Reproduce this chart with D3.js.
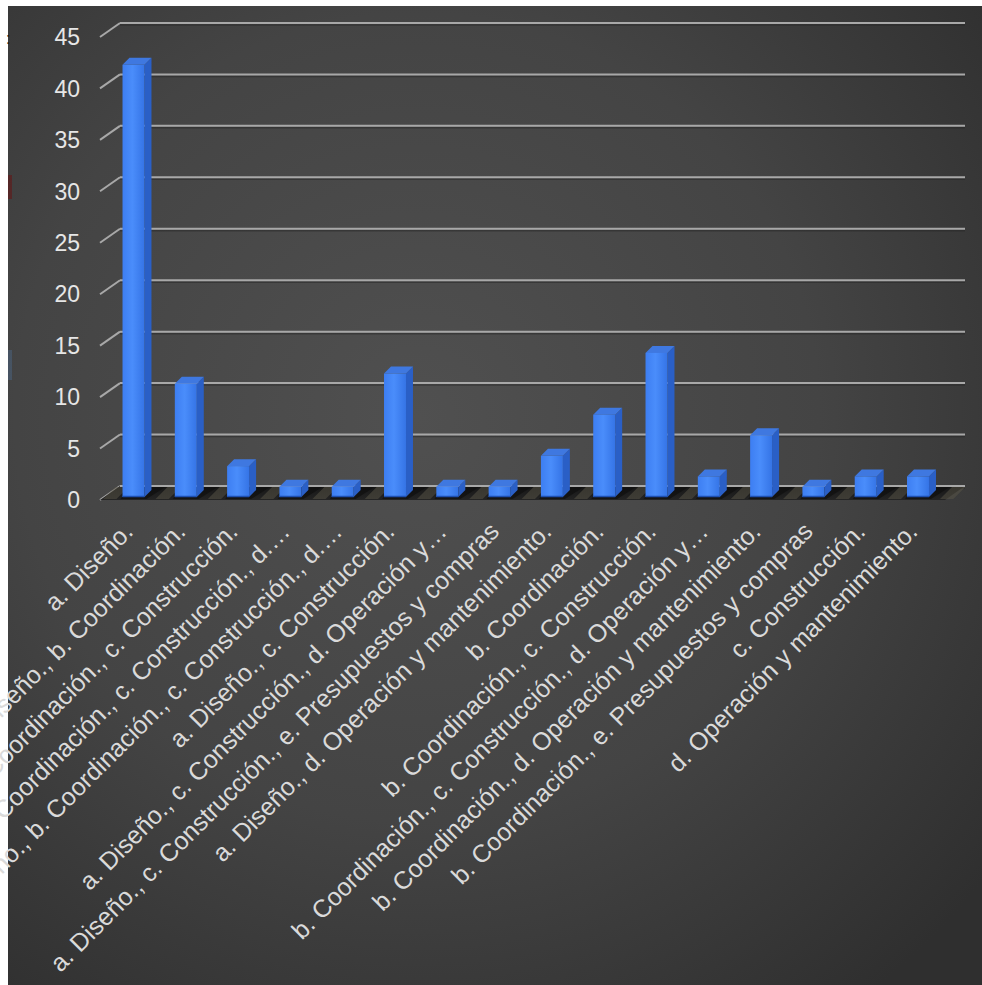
<!DOCTYPE html>
<html>
<head>
<meta charset="utf-8">
<script src="https://cdn.jsdelivr.net/npm/d3@7"></script>
<style>
  html, body { margin: 0; padding: 0; background: #ffffff; }
  svg { display: block; }
</style>
</head>
<body>
<svg id="chart" width="982" height="985"></svg>
<script>
// Categories (answer combinations) and their counts
const categories = [
  "a. Diseño.",
  "a. Diseño., b. Coordinación.",
  "a. Diseño., b. Coordinación., c. Construcción.",
  "a. Diseño., b. Coordinación., c. Construcción., d.…",
  "a. Diseño., b. Coordinación., c. Construcción., d.…",
  "a. Diseño., c. Construcción.",
  "a. Diseño., c. Construcción., d. Operación y…",
  "a. Diseño., c. Construcción., e. Presupuestos y compras",
  "a. Diseño., d. Operación y mantenimiento.",
  "b. Coordinación.",
  "b. Coordinación., c. Construcción.",
  "b. Coordinación., c. Construcción., d. Operación y…",
  "b. Coordinación., d. Operación y mantenimiento.",
  "b. Coordinación., e. Presupuestos y compras",
  "c. Construcción.",
  "d. Operación y mantenimiento."
];
const values = [42, 11, 3, 1, 1, 12, 1, 1, 4, 8, 14, 2, 6, 1, 2, 2];
const yTicks = [0, 5, 10, 15, 20, 25, 30, 35, 40, 45];

const W = 982, H = 985;
const svg = d3.select("#chart");
const defs = svg.append("defs");

// background panel
const bg = defs.append("radialGradient").attr("id", "bg")
  .attr("cx", "42%").attr("cy", "42%").attr("r", "75%");
bg.append("stop").attr("offset", "0%").attr("stop-color", "#505050");
bg.append("stop").attr("offset", "55%").attr("stop-color", "#444444");
bg.append("stop").attr("offset", "100%").attr("stop-color", "#2f2f2f");

const front = defs.append("linearGradient").attr("id", "barFront")
  .attr("x1", "0").attr("x2", "1").attr("y1", "0").attr("y2", "0");
front.append("stop").attr("offset", "0%").attr("stop-color", "#3d7ef2");
front.append("stop").attr("offset", "45%").attr("stop-color", "#4a8dfb");
front.append("stop").attr("offset", "100%").attr("stop-color", "#3574e6");

const floorG = defs.append("linearGradient").attr("id", "floor")
  .attr("x1", "0").attr("x2", "0").attr("y1", "0").attr("y2", "1");
floorG.append("stop").attr("offset", "0%").attr("stop-color", "#161616");
floorG.append("stop").attr("offset", "100%").attr("stop-color", "#242424");

svg.append("rect").attr("x", 0).attr("y", 0).attr("width", W).attr("height", H).attr("fill", "#ffffff");
svg.append("rect").attr("x", 8).attr("y", 6).attr("width", W - 8).attr("height", H - 6).attr("fill", "url(#bg)");

// small cut-off marks at the left edge
svg.append("rect").attr("x", 8).attr("y", 175).attr("width", 4).attr("height", 24).attr("fill", "#5a2020").attr("opacity", 0.8);
svg.append("rect").attr("x", 8).attr("y", 350).attr("width", 4).attr("height", 30).attr("fill", "#4a5f78").attr("opacity", 0.6);
svg.append("text").attr("x", 6).attr("y", 44).attr("fill", "#1a1a1a").attr("font-size", 16)
  .attr("font-family", "Liberation Sans, Arial, sans-serif").text(":");

// 3D geometry: depth offset of the back wall and of the bars
const depthX = 20, depthY = -14;     // front axis edge -> back wall
const barDX = 7, barDY = -7;         // bar thickness
const baseFront = 497;

const y = d3.scaleLinear().domain([0, 45]).range([baseFront, baseFront - 45 * 10.29]);
const backY = v => y(v) - 11;
const axisX = 100;
const wallRight = 965;

const x = d3.scaleBand().domain(d3.range(categories.length))
  .range([107.35, 944.15]).paddingInner(0.58).paddingOuter(0.29);

// gridlines on the back wall + slanted tick marks on the side
const grid = svg.append("g");
yTicks.forEach(t => {
  const yb = backY(t);
  grid.append("line")
    .attr("x1", axisX + depthX).attr("x2", wallRight)
    .attr("y1", yb + 2).attr("y2", yb + 2)
    .attr("stroke", "#262626").attr("stroke-width", 1.5).attr("opacity", 0.5);
  grid.append("line")
    .attr("x1", axisX + depthX).attr("x2", wallRight)
    .attr("y1", yb).attr("y2", yb)
    .attr("stroke", "#a8a8a8").attr("stroke-width", 2);
  grid.append("line")
    .attr("x1", axisX).attr("y1", yb - depthY)
    .attr("x2", axisX + depthX).attr("y2", yb)
    .attr("stroke", "#a8a8a8").attr("stroke-width", 2);
  grid.append("text")
    .attr("x", 80).attr("y", yb - depthY)
    .attr("dy", "0.36em")
    .attr("text-anchor", "end")
    .attr("fill", "#e6e6e6")
    .attr("font-family", "Liberation Sans, Arial, sans-serif")
    .attr("font-size", 23)
    .text(t);
});

// floor
const fy0 = backY(0), fy1 = backY(0) - depthY;
svg.append("path")
  .attr("d", `M${axisX},${fy1} L${axisX + depthX},${fy0} L${wallRight},${fy0} L${wallRight - depthX},${fy1} Z`)
  .attr("fill", "url(#floor)");
// light streaks between the bars on the floor
const streaks = svg.append("g");
d3.range(categories.length + 1).forEach(i => {
  const cx = i < categories.length ? x(i) : x(categories.length - 1) + x.step();
  const left = cx - x.step() + x.bandwidth() + barDX + 4;
  const right = cx - 6;
  if (left >= right) return;
  streaks.append("path")
    .attr("d", `M${left},${fy1 - 1} L${left + 12},${fy0 + 1} L${right + 12},${fy0 + 1} L${right},${fy1 - 1} Z`)
    .attr("fill", "#5a5648").attr("opacity", 0.5);
});
// back edge of the floor
svg.append("line")
  .attr("x1", axisX + depthX).attr("x2", wallRight).attr("y1", fy0).attr("y2", fy0)
  .attr("stroke", "#a8a8a8").attr("stroke-width", 2);

// bars
const bars = svg.append("g");
values.forEach((v, i) => {
  const x0 = x(i), w = x.bandwidth(), x1 = x0 + w;
  const top = y(v), bot = y(0);
  // shadow on the floor
  bars.append("path")
    .attr("d", `M${x0 - 2},${bot + 2} L${x1 + 2},${bot + 2} L${x1 + barDX + 14},${bot - 10} L${x0 + 8},${bot - 10} Z`)
    .attr("fill", "#0e0e0e").attr("opacity", 0.65);
  // side face
  bars.append("path")
    .attr("d", `M${x1},${top} L${x1 + barDX},${top + barDY} L${x1 + barDX},${bot + barDY} L${x1},${bot} Z`)
    .attr("fill", "#2a5fc6");
  // top face
  bars.append("path")
    .attr("d", `M${x0},${top} L${x0 + barDX},${top + barDY} L${x1 + barDX},${top + barDY} L${x1},${top} Z`)
    .attr("fill", "#3f78e0");
  // front face
  bars.append("rect")
    .attr("x", x0).attr("y", top).attr("width", w).attr("height", bot - top)
    .attr("fill", "url(#barFront)");
  bars.append("line")
    .attr("x1", x0).attr("x2", x1).attr("y1", bot - 0.5).attr("y2", bot - 0.5)
    .attr("stroke", "#1d4fb0").attr("stroke-width", 1.5);
});

// category labels, rotated
const lab = svg.append("g");
categories.forEach((c, i) => {
  const cx = x(i) + x.bandwidth() / 2;
  lab.append("text")
    .attr("transform", `translate(${cx + 1},${533}) rotate(-45)`)
    .attr("text-anchor", "end")
    .attr("fill", "#dadada")
    .attr("font-family", "Liberation Sans, Arial, sans-serif")
    .attr("font-size", 25)
    .text(c);
});
</script>
</body>
</html>
